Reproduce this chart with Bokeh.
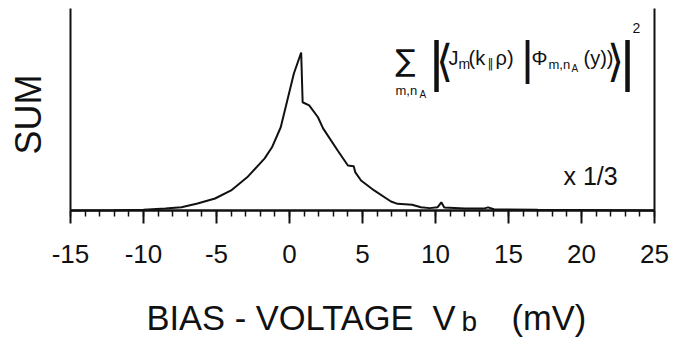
from bokeh.plotting import figure
from bokeh.models import Range1d, FixedTicker, LinearAxis, Label
from bokeh.embed import file_html
from bokeh.resources import INLINE

# ---- data (SUM normalised to its peak) ----
bias_mv = [-15, -12, -10, -8.5, -7.4, -6.3, -5.1, -4.0, -2.9, -1.7, -1.2, -0.6, 0.3, 0.8,
           0.9, 1.35, 1.95, 2.3, 3.3, 4.0, 4.4, 4.5, 4.9, 5.8, 6.95, 7.4, 8.4, 9.0, 9.6,
           10.15, 10.4, 10.6, 12.0, 13.3, 13.6, 14.0, 17.0, 25.0]
sum_vals = [0.0, 0.001, 0.004, 0.012, 0.021, 0.044, 0.076, 0.127, 0.21, 0.33, 0.40, 0.527, 0.867, 1.0,
            0.685, 0.665, 0.59, 0.52, 0.38, 0.285, 0.28, 0.243, 0.19, 0.127, 0.057, 0.042, 0.036, 0.021, 0.015,
            0.021, 0.052, 0.019, 0.012, 0.012, 0.02, 0.008, 0.004, 0.0]
major_ticks = [-15, -10, -5, 0, 5, 10, 15, 20, 25]
tick_labels = ["-15", "-10", "-5", "0", "5", "10", "15", "20", "25"]
minor_ticks = list(range(-15, 26))
x_label = "BIAS - VOLTAGE"
y_label = "SUM"
scale_note = "x 1/3"

# ---- layout (page pixels) ----
W, H = 673, 337
X_LEFT_PX, PX_PER_MV = 70, 14.6      # x = -15 sits at page px 70
BASE_PX, PX_PER_UNIT = 210, 158      # y = 0 sits at page px 210
TOP_PX = 8

def dx(px):
    return major_ticks[0] + (px - X_LEFT_PX) / PX_PER_MV

def dy(py):
    return (BASE_PX - py) / PX_PER_UNIT

XMIN, XMAX = major_ticks[0], major_ticks[-1]
YTOP = dy(TOP_PX)

p = figure(width=W, height=H, output_backend="svg", toolbar_location=None,
           x_range=Range1d(dx(0), dx(W)), y_range=Range1d(dy(H), dy(0)),
           min_border_left=0, min_border_right=0, min_border_top=0, min_border_bottom=0)
p.grid.visible = False
p.outline_line_color = None
p.background_fill_color = "white"
p.border_fill_color = "white"

INK = "#111111"

xa = p.xaxis[0]
xa.fixed_location = 0
xa.bounds = (XMIN, XMAX)
xa.ticker = FixedTicker(ticks=major_ticks, minor_ticks=minor_ticks)
xa.major_label_overrides = {t: s for t, s in zip(major_ticks, tick_labels)}
xa.major_tick_in = 0
xa.major_tick_out = 13
xa.minor_tick_in = 0
xa.minor_tick_out = 6
xa.axis_line_width = 2.5
xa.major_tick_line_width = 2
xa.minor_tick_line_width = 1.5
xa.axis_line_color = INK
xa.major_tick_line_color = INK
xa.minor_tick_line_color = INK
xa.major_label_text_font = "Liberation Sans"
xa.major_label_text_font_size = "26px"
xa.major_label_text_color = INK
xa.major_label_standoff = 21

ya = p.yaxis[0]
ya.fixed_location = XMIN
ya.bounds = (0, YTOP)
ya.ticker = FixedTicker(ticks=[])
ya.axis_line_width = 2
ya.axis_line_color = INK

ra = LinearAxis(ticker=FixedTicker(ticks=[]), axis_line_width=2, axis_line_color=INK,
                fixed_location=XMAX, bounds=(0, YTOP))
p.add_layout(ra, "right")

p.line(bias_mv, sum_vals, line_color=INK, line_width=2)

def lab(text, px, py, size, align="left", font="Liberation Sans", angle=0.0, baseline="middle"):
    p.add_layout(Label(x=dx(px), y=dy(py), text=text, text_font=font,
                       text_font_size=f"{size}px", text_align=align, text_baseline=baseline,
                       text_color=INK, angle=angle))

# y label
lab(y_label, 28, 114, 36, align="center", angle=1.5707963)
# x label
lab(x_label, 146, 317, 34.5)
lab("V", 432, 317, 34.5)
lab("b", 461, 321, 28)
lab("(mV)", 511, 317, 34.5)
# scale note
lab(scale_note, 563, 175, 25)

# formula
lab("\u2211", 405, 60, 30, align="center", font="DejaVu Sans")
lab("m,n", 395, 90, 13)
lab("A", 419, 94, 10)
lab("|", 436, 60, 56, align="center")
lab("\u27e8", 444, 60, 44, align="center", font="DejaVu Sans")
lab("J", 448, 57, 20)
lab("m", 458, 63, 14)
lab("(k", 468, 57, 20)
lab("\u2016", 487, 63, 12, font="DejaVu Sans")
lab("\u03c1)", 495, 57, 20)
lab("|", 527, 57, 46, align="center")
lab("\u03a6", 531, 57, 20)
lab("m,n", 548, 64, 13)
lab("A", 571, 68, 10)
lab("(y))", 583, 57, 20)
lab("\u27e9", 615, 60, 44, align="center", font="DejaVu Sans")
lab("|", 627, 60, 56, align="center")
lab("2", 632, 27, 14)

open("out.html", "w").write(file_html(p, INLINE))
